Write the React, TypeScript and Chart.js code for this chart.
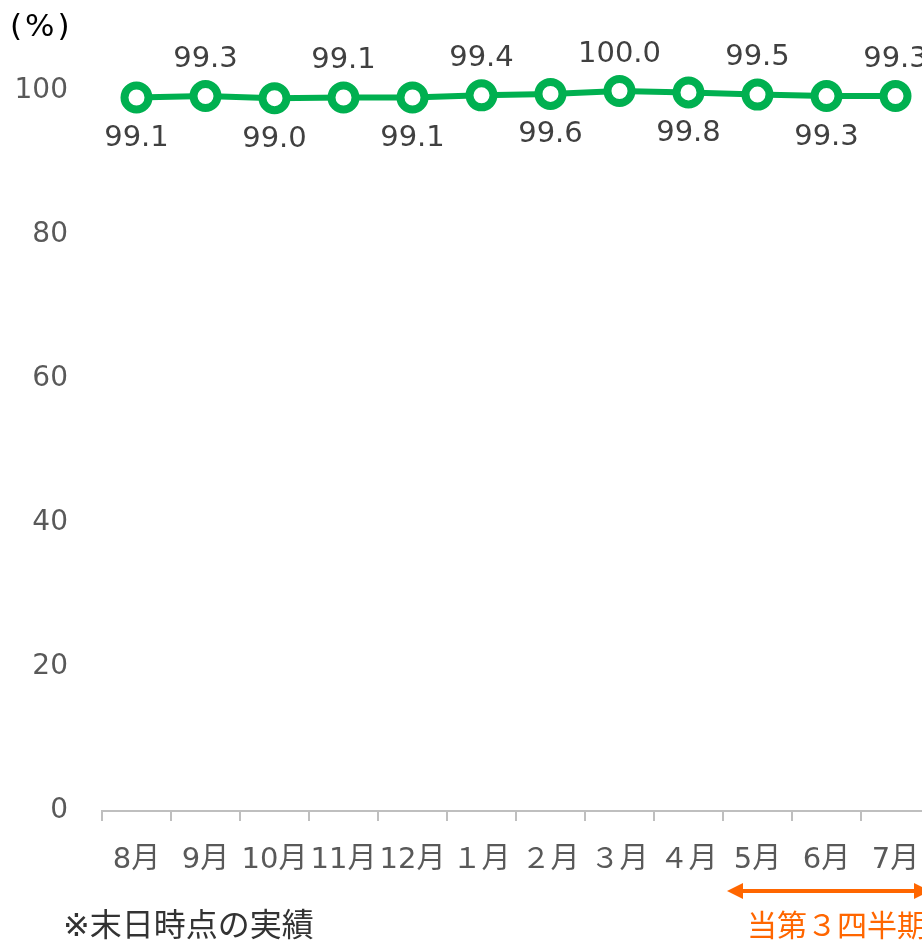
import React, { useEffect, useRef } from "react";
import { Chart, registerables } from "chart.js";

Chart.register(...registerables);

const categories = ["8月", "9月", "10月", "11月", "12月", "１月", "２月", "３月", "４月", "5月", "6月", "7月"];
const values = [99.1, 99.3, 99.0, 99.1, 99.1, 99.4, 99.6, 100.0, 99.8, 99.5, 99.3, 99.3];
const labelSides = ["below", "above", "below", "above", "below", "above", "below", "above", "below", "above", "below", "above"];
const yTicks = [0, 20, 40, 60, 80, 100];
const quarterStartIndex = 9;
const quarterLabel = "当第３四半期";
const noteText = "※末日時点の実績";
const unitText = "(%)";

const FONT = '"DejaVu Sans", "Noto Sans CJK JP", sans-serif';
const GREEN = "#00B050";
const ORANGE = "#FF6600";

const overlayPlugin = {
  id: "overlay",
  afterDatasetsDraw(chart: any) {
    const ctx = chart.ctx;
    const meta = chart.getDatasetMeta(0);
    ctx.save();
    ctx.font = `29px ${FONT}`;
    ctx.fillStyle = "#404040";
    ctx.textAlign = "center";
    ctx.textBaseline = "middle";
    meta.data.forEach((pt: any, i: number) => {
      const { x, y } = pt.getProps(["x", "y"], true);
      const dy = labelSides[i] === "above" ? -37 : 41;
      ctx.fillText(values[i].toFixed(1), x, y + dy);
    });
    ctx.restore();
  },
  afterDraw(chart: any) {
    const ctx = chart.ctx;
    const xs = chart.scales.x;
    const area = chart.chartArea;
    ctx.save();
    ctx.textBaseline = "middle";
    ctx.textAlign = "left";
    ctx.font = `31px ${FONT}`;
    ctx.fillStyle = "#000000";
    (ctx as any).letterSpacing = "3px";
    ctx.fillText(unitText, 10, 28);
    (ctx as any).letterSpacing = "0px";
    ctx.font = `32px ${FONT}`;
    ctx.fillStyle = "#333333";
    ctx.fillText(noteText, 63, 928);

    // quarter arrow
    const step = xs.getPixelForValue(1) - xs.getPixelForValue(0);
    const x0 = xs.getPixelForValue(quarterStartIndex) - step / 2 + 4;
    const x1 = area.right;
    const ay = 891;
    const head = 16;
    const hh = 8;
    ctx.strokeStyle = ORANGE;
    ctx.fillStyle = ORANGE;
    ctx.lineWidth = 4;
    ctx.beginPath();
    ctx.moveTo(x0 + head - 2, ay);
    ctx.lineTo(x1 - head + 2, ay);
    ctx.stroke();
    ctx.beginPath();
    ctx.moveTo(x0, ay);
    ctx.lineTo(x0 + head, ay - hh);
    ctx.lineTo(x0 + head, ay + hh);
    ctx.closePath();
    ctx.fill();
    ctx.beginPath();
    ctx.moveTo(x1, ay);
    ctx.lineTo(x1 - head, ay - hh);
    ctx.lineTo(x1 - head, ay + hh);
    ctx.closePath();
    ctx.fill();
    ctx.font = `30px ${FONT}`;
    ctx.fillText(quarterLabel, x0 + 20, 928);
    ctx.restore();
  },
};

export default function App() {
  const ref = useRef<HTMLCanvasElement>(null);
  useEffect(() => {
    const canvas = ref.current;
    if (!canvas) return;
    const chart = new Chart(canvas, {
      type: "line",
      data: {
        labels: categories,
        datasets: [
          {
            data: values,
            borderColor: GREEN,
            borderWidth: 6,
            pointRadius: 12,
            pointBorderWidth: 8,
            pointBackgroundColor: "#FFFFFF",
            pointBorderColor: GREEN,
            tension: 0,
            clip: false as any,
          },
        ],
      },
      options: {
        responsive: false,
        animation: false,
        layout: { padding: { top: 91, right: 0, left: 0, bottom: 0 } },
        plugins: { legend: { display: false }, tooltip: { enabled: false }, title: { display: false } },
        scales: {
          x: {
            offset: true,
            grid: {
              display: true,
              offset: true,
              drawOnChartArea: false,
              drawTicks: true,
              tickLength: 10,
              color: "#BFBFBF",
              lineWidth: 2,
            },
            border: { display: true, color: "#BFBFBF", width: 2 },
            ticks: {
              autoSkip: false,
              maxRotation: 0,
              minRotation: 0,
              padding: 22,
              color: "#595959",
              font: { size: 29, family: FONT },
            },
            afterFit: (s: any) => {
              s.height = 132;
            },
          },
          y: {
            min: 0,
            max: 100,
            afterBuildTicks: (s: any) => {
              s.ticks = yTicks.map((v) => ({ value: v }));
            },
            grid: { display: false },
            border: { display: false },
            ticks: {
              padding: 26,
              color: "#595959",
              font: { size: 28, family: FONT },
            },
            afterFit: (s: any) => {
              s.width = 102;
            },
          },
        },
      },
      plugins: [overlayPlugin],
    });
    return () => chart.destroy();
  }, []);
  return (
    <div style={{ position: "fixed", left: 0, top: 0, width: 922, height: 943, overflow: "hidden", background: "#fff" }}>
      <canvas ref={ref} width={950} height={943} style={{ display: "block" }} />
    </div>
  );
}
